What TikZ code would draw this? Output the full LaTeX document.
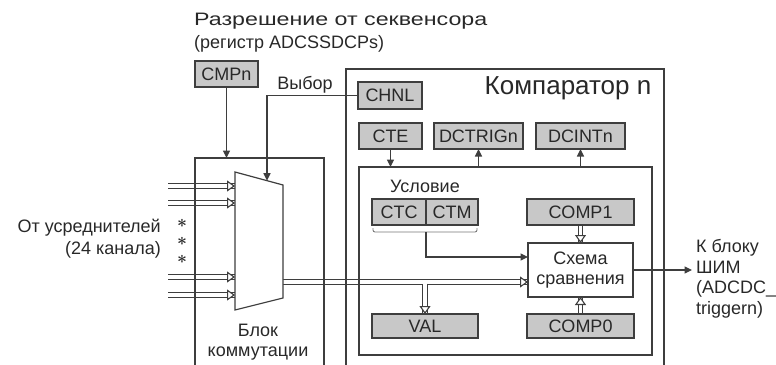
\documentclass[tikz,border=0pt]{standalone}
\usepackage{fontspec}
\setmainfont{Liberation Sans}
\definecolor{lineGray}{RGB}{62, 62, 62}
\definecolor{regGray}{RGB}{200, 200, 200}
\definecolor{textGray}{RGB}{40, 40, 40}
\usepackage{tikz}
\usetikzlibrary{positioning, arrows.meta, backgrounds}

\begin{document}
\begin{tikzpicture}[
    x=1pt, y=-1pt,
    every node/.style={text=textGray, font=\fontsize{18}{21.5}\selectfont},
    regbox/.style={rectangle, draw=lineGray, fill=regGray, line width=1.2pt,
                   minimum height=26pt, inner sep=0pt, outer sep=0pt, align=center},
    framebox/.style={rectangle, draw=lineGray, line width=1.2pt,
                     inner sep=0pt, outer sep=0pt},
    txt/.style={inner sep=0pt},
    starmark/.style={inner sep=0pt, font=\fontsize{18}{18}\selectfont\boldmath},
    muxshape/.style={draw=lineGray, fill=white, line width=1.2pt},
    arrow/.style={-{Triangle[length=7.5pt, width=7pt]}, draw=lineGray, line width=1.1pt},
    hollow/.style={draw=lineGray, line width=1.1pt, double=white, double distance=3.2pt,
                   postaction={draw=white, line width=0.1pt,
                     -{Triangle[open, fill=white, color=lineGray, line width=1.1pt,
                                length=8pt, width=11pt]}}},
    bracket/.style={draw=lineGray!70, line width=0.9pt, rounded corners=2pt},
  ]
    \path[use as bounding box, clip] (0,0) rectangle (776,364);

    % Sequencer enable
    \node[txt, anchor=west, align=left, font=\fontsize{18}{23}\selectfont] (SEQ_TXT)
      at (194,33) {{\addfontfeatures{FakeStretch=1.29}Разрешение от секвенсора}\\(регистр ADCSSDCPs)};
    \node[regbox, minimum width=63pt] (CMPN) at (226.5,74) {CMPn};

    % Switching block
    \node[framebox, minimum width=129pt, minimum height=210pt] (BLK) at (259.5,263) {};
    \node[txt, align=center, font=\fontsize{18}{20}\selectfont] (BLK_TXT)
      at (258,342) {Блок\\коммутации};

    \coordinate (MUX_TL) at (235,172);
    \coordinate (MUX_TR) at (283,185);
    \coordinate (MUX_BR) at (283,298);
    \coordinate (MUX_BL) at (235,310);
    \coordinate (MUX_SEL) at (267,180.7);
    \coordinate (MUX_OUT) at (283,282);

    \node[txt, anchor=east, align=right, font=\fontsize{18}{22}\selectfont] (SRC_TXT)
      at (161,239) {От усреднителей\\(24 канала)};
    \foreach \y [count=\i] in {223,241,259} {
      \node[starmark] (STAR\i) at (182,\y) {$\ast$};
    }

    % Comparator n
    \node[framebox, minimum width=318pt, minimum height=299pt] (COMPAR) at (505,218.5) {};
    \node[txt, font=\fontsize{26}{30}\selectfont] (COMPAR_TXT) at (568,88) {Компаратор n};

    \node[regbox, minimum width=64pt, minimum height=27pt] (CHNL) at (390,95.5) {CHNL};
    \node[txt] (SEL_TXT) at (305,85) {Выбор};

    \node[regbox, minimum width=63pt] (CTE) at (390.5,136) {CTE};
    \node[regbox, minimum width=89pt] (DCTRIG) at (478.5,136) {DCTRIGn};
    \node[regbox, minimum width=89pt] (DCINT) at (580.5,136) {DCINTn};

    \node[framebox, minimum width=293pt, minimum height=188pt] (INNER) at (505.5,261) {};
    \node[txt] (COND_TXT) at (425,186) {Условие};
    \node[regbox, minimum width=54pt] (CTC) at (399,212) {CTC};
    \node[regbox, minimum width=52pt, right=0pt of CTC] (CTM) {CTM};
    \node[regbox, minimum width=107pt] (COMP1) at (580.5,212) {COMP1};
    \node[regbox, fill=white, minimum width=105pt, minimum height=54pt,
          font=\fontsize{18}{20}\selectfont] (SCHEME) at (580.5,270) {Схема\\сравнения};
    \node[regbox, minimum width=107pt, minimum height=24pt] (COMP0) at (580.5,326) {COMP0};
    \node[regbox, minimum width=106pt, minimum height=24pt] (VAL) at (425,326) {VAL};

    \coordinate (TAP) at (425,283.6);

    % Data paths
    \begin{scope}[on background layer]
      \foreach \y [count=\i] in {186,203,277,295} {
        \coordinate (IN\i) at (168,\y);
        \coordinate (MUX_IN\i) at (235,\y);
        \draw[hollow] (IN\i) -- (MUX_IN\i);
      }
      \draw[hollow] (MUX_OUT) -- (SCHEME.west |- MUX_OUT);
      \draw[hollow] (TAP) -- (VAL.north);
      \draw[hollow] (COMP1.south) -- (SCHEME.north);
      \draw[hollow] (COMP0.north) -- (SCHEME.south);
    \end{scope}

    \draw[muxshape] (MUX_TL) -- (MUX_TR) -- (MUX_BR) -- (MUX_BL) -- cycle;

    % Control arrows
    \draw[arrow] (CMPN.south) -- (CMPN.south |- BLK.north);
    \draw[arrow] (CHNL.west) -| (MUX_SEL);
    \draw[arrow] (CTE.south) -- (CTE.south |- INNER.north);
    \draw[arrow] (DCTRIG.south |- INNER.north) -- (DCTRIG.south);
    \draw[arrow] (DCINT.south |- INNER.north) -- (DCINT.south);

    \draw[bracket] ([xshift=1pt, yshift=-3pt]CTC.south west) -- ++(0,4)
      -| ([xshift=-1pt, yshift=-3pt]CTM.south east);
    \draw[arrow] ([yshift=-7pt]CTC.south east) |- ([yshift=13pt]SCHEME.west);

    % Output to PWM
    \coordinate (OUT_END) at (692,270);
    \draw[arrow] (SCHEME.east) -- (OUT_END);
    \node[txt, anchor=west, align=left, font=\fontsize{18}{20.5}\selectfont] (OUT_TXT)
      at (696,279) {К блоку\\ШИМ\\(ADCDC\_\\triggern)};
  \end{tikzpicture}
\end{document}
